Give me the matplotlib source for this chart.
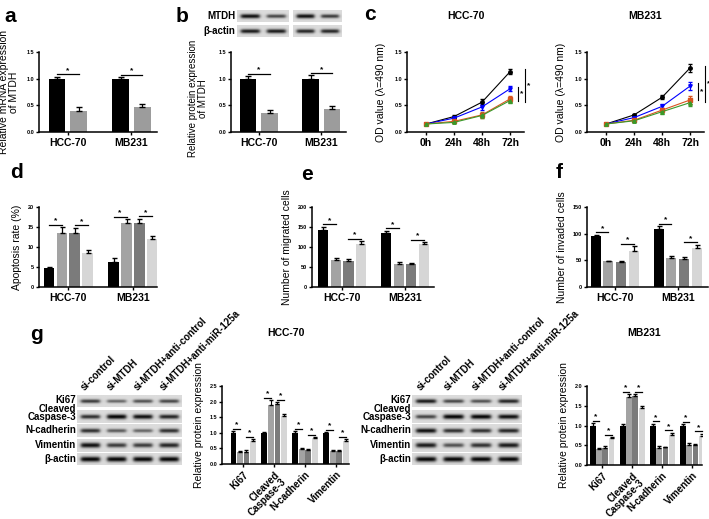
import numpy as np
import matplotlib
matplotlib.use('Agg')
import matplotlib.pyplot as plt

plt.rcParams['font.family'] = ['Liberation Sans', 'DejaVu Sans']
plt.rcParams['font.weight'] = 'bold'
plt.rcParams['axes.linewidth'] = 1.1

W, H = 709, 519

cells = ['HCC-70', 'MB231']
bar4_colors = ['black', '#a3a3a3', '#7b7b7b', '#d6d6d6']
bar2_colors = ['black', '#9c9c9c']

# a - mRNA
mrna_ctrl = [1.0, 1.0]
mrna_ctrl_err = [0.04, 0.03]
mrna_si = [0.40, 0.47]
mrna_si_err = [0.07, 0.06]

# b - protein
prot_ctrl = [1.0, 1.0]
prot_ctrl_err = [0.05, 0.06]
prot_si = [0.35, 0.43]
prot_si_err = [0.07, 0.05]
mtdh_bands = [0.95, 0.7, 0.95, 0.75]
actin_b_bands = [0.9, 0.9, 0.85, 0.85]

# c - CCK-8
times = ['0h', '24h', '48h', '72h']
od_hcc = {'black': [0.15, 0.29, 0.56, 1.13],
          'blue': [0.15, 0.26, 0.47, 0.81],
          '#d9531e': [0.15, 0.20, 0.32, 0.62],
          '#3a9a2a': [0.15, 0.18, 0.31, 0.59]}
od_hcc_err = [0.01, 0.02, 0.05, 0.05]
od_mb = {'black': [0.15, 0.32, 0.65, 1.20],
         'blue': [0.15, 0.27, 0.48, 0.86],
         '#d9531e': [0.15, 0.22, 0.41, 0.60],
         '#3a9a2a': [0.15, 0.21, 0.38, 0.55]}
od_mb_err = [0.01, 0.02, 0.04, 0.07]
markers = ['o', 'v', 's', '^']

# d, e, f - four groups
apop = [[4.7, 13.4, 13.6, 8.5], [6.2, 15.9, 16.0, 12.1]]
apop_err = [[0.4, 1.5, 1.2, 0.7], [1.1, 1.0, 1.1, 0.7]]
migr = [[143, 67, 66, 107], [135, 57, 57, 107]]
migr_err = [[8, 5, 4, 7], [6, 5, 4, 5]]
inva = [[95, 48, 47, 68], [109, 55, 53, 73]]
inva_err = [[3, 1.5, 2, 9], [5, 4, 4, 6]]

# g - western blot quantification
proteins = ['Ki67', 'Cleaved\nCaspase-3', 'N-cadherin', 'Vimentin']
g_hcc = [[1.0, 0.37, 0.39, 0.75], [1.0, 1.89, 1.92, 1.54],
         [1.0, 0.48, 0.45, 0.84], [1.0, 0.42, 0.42, 0.75]]
g_hcc_err = [[0.05, 0.05, 0.06, 0.05], [0.03, 0.15, 0.06, 0.07],
             [0.05, 0.04, 0.02, 0.03], [0.03, 0.02, 0.02, 0.05]]
g_mb = [[1.0, 0.41, 0.42, 0.68], [1.0, 1.73, 1.75, 1.45],
        [1.0, 0.44, 0.45, 0.77], [1.0, 0.51, 0.50, 0.73]]
g_mb_err = [[0.06, 0.02, 0.07, 0.03], [0.04, 0.06, 0.04, 0.04],
            [0.05, 0.03, 0.01, 0.05], [0.03, 0.05, 0.03, 0.06]]
lanes = ['si-control', 'si-MTDH', 'si-MTDH+anti-control', 'si-MTDH+anti-miR-125a']
blot_rows = ['Ki67', 'Cleaved\nCaspase-3', 'N-cadherin', 'Vimentin', '\u03b2-actin']
bands_hcc = [[0.75, 0.55, 0.65, 0.7], [0.8, 1.0, 0.95, 0.85], [0.8, 0.6, 0.55, 0.8],
             [0.95, 0.75, 0.75, 0.85], [1.0, 1.0, 1.0, 1.0]]
bands_mb = [[0.9, 0.7, 0.65, 0.85], [0.7, 1.0, 1.0, 0.95], [0.95, 0.8, 0.8, 0.85],
            [0.9, 0.65, 0.8, 0.9], [1.0, 1.0, 1.0, 1.0]]

fig = plt.figure(figsize=(W / 100, H / 100), dpi=100)


def add_ax(x0, y0, x1, y1):
    return fig.add_axes([x0 / W, 1 - y1 / H, (x1 - x0) / W, (y1 - y0) / H])


def style(ax):
    ax.spines['top'].set_visible(False)
    ax.spines['right'].set_visible(False)
    ax.tick_params(axis='both', direction='out', length=2.5, width=1, labelsize=4, pad=1)
    ax.tick_params(axis='x', labelsize=7.5, pad=1.5)


def sig_h(ax, x1, x2, y, ymax):
    ax.plot([x1, x2], [y, y], color='black', lw=0.9, clip_on=False)
    ax.text((x1 + x2) / 2, y + ymax * 0.005, '*', ha='center', va='bottom', fontsize=6)


def letter(x, y, s):
    fig.text(x / W, 1 - y / H, s, fontsize=15, fontweight='bold', va='baseline')


def blot(ax, strengths, thick=1.0):
    n = len(strengths)
    h, w = 30, 40 * n
    yy = np.arange(h)[:, None]
    xx = np.arange(w)[None, :]
    img = np.full((h, w), 0.86)
    for i, s in enumerate(strengths):
        cx = (i + 0.5) * w / n
        band = np.exp(-((yy - h / 2) / (2.5 + 3.0 * s * thick)) ** 2)
        horiz = 1 / (1 + np.exp((np.abs(xx - cx) - 0.36 * w / n) / 1.5))
        img = img - 0.85 * s * band * horiz
    ax.imshow(img, cmap='gray', vmin=0, vmax=1, aspect='auto', interpolation='bilinear')
    ax.set_xticks([])
    ax.set_yticks([])
    for sp in ax.spines.values():
        sp.set_visible(False)


# ---------- a ----------
def two_bar(ax, ctrl, ctrl_err, si, si_err):
    x = np.arange(len(cells))
    ax.bar(x - 0.17, ctrl, 0.26, color=bar2_colors[0])
    ax.bar(x + 0.17, si, 0.26, color=bar2_colors[1])
    ax.errorbar(x - 0.17, ctrl, yerr=[np.zeros(2), ctrl_err], fmt='none', ecolor='black', capsize=2, lw=0.9)
    ax.errorbar(x + 0.17, si, yerr=[np.zeros(2), si_err], fmt='none', ecolor='black', capsize=2, lw=0.9)
    for i in range(2):
        sig_h(ax, x[i] - 0.17, x[i] + 0.17, ctrl[i] + ctrl_err[i] + 0.04, 1.5)
    ax.set_xticks(x)
    ax.set_xticklabels(cells)
    ax.set_xlim(-0.45, 1.4)
    ax.set_ylim(0, 1.5)
    ax.set_yticks([0, 0.5, 1.0, 1.5])
    style(ax)


ax = add_ax(39, 52, 157, 132)
two_bar(ax, mrna_ctrl, mrna_ctrl_err, mrna_si, mrna_si_err)
ax.set_ylabel('Relative mRNA expression\nof MTDH', fontsize=7.5, labelpad=5, linespacing=1.0)
letter(4, 22, 'a')

# ---------- b ----------
ax = add_ax(231, 52, 346, 132)
two_bar(ax, prot_ctrl, prot_ctrl_err, prot_si, prot_si_err)
ax.set_ylabel('Relative protein expression\nof MTDH', fontsize=7, labelpad=5, linespacing=1.0)
ax.yaxis.set_label_coords(-0.2, 0.42)
letter(176, 22, 'b')
blot(add_ax(237, 10, 289, 22), mtdh_bands[:2])
blot(add_ax(293, 10, 342, 22), mtdh_bands[2:])
blot(add_ax(237, 25, 289, 37), actin_b_bands[:2])
blot(add_ax(293, 25, 342, 37), actin_b_bands[2:])
fig.text(235 / W, 1 - 16 / H, 'MTDH', ha='right', va='center', fontsize=7)
fig.text(235 / W, 1 - 31 / H, '\u03b2-actin', ha='right', va='center', fontsize=7)


# ---------- c ----------
def od_plot(ax, data, err, title, sig1, sig2):
    x = np.arange(len(times))
    for (col, vals), mk in zip(data.items(), markers):
        ax.errorbar(x, vals, yerr=err, color=col, marker=mk, ms=2.5, lw=0.8, capsize=1.5, elinewidth=0.7)
    ax.set_xticks(x)
    ax.set_xticklabels(times)
    ax.set_xlim(-0.68, 3.5)
    ax.set_ylim(0, 1.5)
    ax.set_yticks([0, 0.5, 1.0, 1.5])
    style(ax)
    ax.set_ylabel('OD value (\u03bb=490 nm)', fontsize=7.5, labelpad=6)
    ax.set_title(title, fontsize=7.5, fontweight='bold', pad=24)
    for xs, (lo, hi) in zip([3.3, 3.55], [sig1, sig2]):
        ax.plot([xs, xs], [lo, hi], color='black', lw=0.8, clip_on=False)
        ax.text(xs + 0.06, (lo + hi) / 2, '*', fontsize=6, va='center', ha='left', clip_on=False)


od_plot(add_ax(407, 52, 524, 132), od_hcc, od_hcc_err, 'HCC-70', (0.58, 0.84), (0.56, 1.18))
od_plot(add_ax(587, 52, 704, 132), od_mb, od_mb_err, 'MB231', (0.60, 0.92), (0.56, 1.24))
letter(364, 20, 'c')


# ---------- d, e, f ----------
def four_bar(ax, means, errs, ymax, step, x0, x1, ylab):
    x = np.arange(len(cells))
    offs = [-0.3, -0.1, 0.1, 0.3]
    for j in range(4):
        vals = [m[j] for m in means]
        ee = [e[j] for e in errs]
        ax.bar(x + offs[j], vals, 0.16, color=bar4_colors[j])
        ax.errorbar(x + offs[j], vals, yerr=[np.zeros(2), ee], fmt='none', ecolor='black', capsize=1.8, lw=0.9)
    for i in range(2):
        t = [means[i][j] + errs[i][j] for j in range(4)]
        sig_h(ax, x[i] + offs[0], x[i] + offs[1], max(t[0], t[1]) + ymax * 0.03, ymax)
        sig_h(ax, x[i] + offs[2], x[i] + offs[3], max(t[2], t[3]) + ymax * 0.03, ymax)
    ax.set_xticks(x)
    ax.set_xticklabels(cells)
    ax.set_xlim(x0, x1)
    ax.set_ylim(0, ymax)
    ax.set_yticks(np.arange(0, ymax + 1, step))
    style(ax)
    ax.set_ylabel(ylab, fontsize=7.5, labelpad=4)


four_bar(add_ax(39, 207, 157, 287), apop, apop_err, 20, 5, -0.45, 1.37, 'Apoptosis rate (%)')
letter(10, 178, 'd')
four_bar(add_ax(312, 207, 434, 287), migr, migr_err, 200, 50, -0.48, 1.46, 'Number of migrated cells')
letter(301, 180, 'e')
four_bar(add_ax(587, 207, 708, 287), inva, inva_err, 150, 50, -0.44, 1.48, 'Number of invaded cells')
letter(556, 178, 'f')


# ---------- g ----------
def g_bars(ax, means, errs, ymax, x0, x1, title):
    x = np.arange(len(proteins))
    offs = [-0.31, -0.1, 0.11, 0.32]
    for j in range(4):
        vals = [m[j] for m in means]
        ee = [e[j] for e in errs]
        ax.bar(x + offs[j], vals, 0.19, color=bar4_colors[j])
        ax.errorbar(x + offs[j], vals, yerr=[np.zeros(4), ee], fmt='none', ecolor='black', capsize=1.2, lw=0.8)
    for i in range(4):
        t = [means[i][j] + errs[i][j] for j in range(4)]
        sig_h(ax, x[i] + offs[0], x[i] + offs[1], max(t[0], t[1]) + ymax * 0.03, ymax)
        sig_h(ax, x[i] + offs[2], x[i] + offs[3], max(t[2], t[3]) + ymax * 0.03, ymax)
    ax.set_xticks(x)
    ax.set_xticklabels(proteins, rotation=45, ha='right', rotation_mode='anchor', fontsize=7, linespacing=0.9)
    ax.set_xlim(x0, x1)
    ax.set_ylim(0, ymax)
    ax.set_yticks(np.arange(0, ymax + 0.01, 0.5))
    style(ax)
    ax.tick_params(axis='x', labelsize=7)
    ax.set_ylabel('Relative protein expression', fontsize=7.5, labelpad=4)
    ax.set_title(title, fontsize=7.5, fontweight='bold', pad=36)


g_bars(add_ax(222, 386, 349, 464), g_hcc, g_hcc_err, 2.5, -0.68, 3.42, 'HCC-70')
g_bars(add_ax(587, 386, 702, 465), g_mb, g_mb_err, 2.0, -0.5, 3.33, 'MB231')
letter(30, 340, 'g')

row_y = [(395, 407), (410, 423), (424, 437), (439, 452), (453, 465)]
label_y = [400, 413, 430, 445, 459]
for bx0, bx1, bands in [(77, 182, bands_hcc), (412, 522, bands_mb)]:
    for (r0, r1), b, name, ly in zip(row_y, bands, blot_rows, label_y):
        blot(add_ax(bx0, r0, bx1, r1), b, thick=1.3 if name == '\u03b2-actin' else 1.0)
        fig.text((bx0 - 1) / W, 1 - ly / H, name, ha='right', va='center', fontsize=7, linespacing=0.85)
    lw = (bx1 - bx0) / 4
    for k, name in enumerate(lanes):
        fig.text((bx0 + lw * (k + 0.5) - 4) / W, 1 - 392 / H, name, rotation=45,
                 ha='left', va='bottom', rotation_mode='anchor', fontsize=7)

fig.savefig('out.png', dpi=100)
